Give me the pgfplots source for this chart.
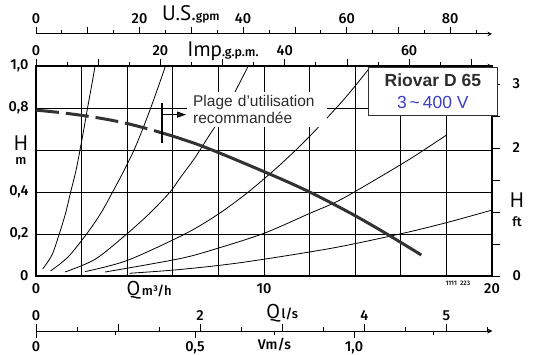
\documentclass[border=0pt]{standalone}
\usepackage{fontspec}
\setmainfont{Fira Sans}[UprightFont={* Medium}, BoldFont={* Bold}]
\newfontfamily\condfont{PT Sans}
\newfontfamily\arialfont{Liberation Sans}
\usepackage{pgfplots}
\pgfplotsset{compat=1.18}
\usetikzlibrary{arrows.meta}
\definecolor{darktext}{RGB}{45,45,45}
\definecolor{voltblue}{RGB}{60,60,200}
\definecolor{pumpgray}{RGB}{50,50,50}

\pgfplotsset{
  scaleaxis/.style={
    width=456pt, scale only axis, clip=false,
    tick style={black, line width=0.8pt},
    axis line style={black, line width=1pt, -},
    tick label style={font=\fontsize{14.5}{15}\selectfont, /pgf/number format/assume math mode=true},
  },
}
\begin{document}
\begin{tikzpicture}
\path[use as bounding box] (-36pt,-78pt) rectangle (502pt,276pt);
% US gpm axis
\begin{axis}[scaleaxis, at={(0pt,242pt)}, anchor=north west, height=10pt,
  xmin=0, xmax=88.06, ymin=0, ymax=1, hide y axis, axis x line=top,
  xtick={0,10,...,80}, xticklabels={0,,20,,40,,60,,80},
  minor xtick={5,15,...,85},
  tick align=outside, major tick length=7pt, minor tick length=4pt]
\node[anchor=base, inner sep=0pt] at (axis cs:29.9,1) [yshift=13pt] {{\condfont\fontsize{21}{21}\selectfont U.S.}{\fontsize{12}{12}\selectfont gpm}};
\end{axis}
% Imp gpm axis
\begin{axis}[scaleaxis, at={(0pt,210pt)}, anchor=north west, height=10pt,
  xmin=0, xmax=73.32, ymin=0, ymax=1, hide y axis, axis x line=top,
  xtick={0,10,...,70}, xticklabels={0,,20,,40,,60,},
  minor xtick={5,15,...,65},
  tick align=outside, major tick length=7pt, minor tick length=4pt]
\node[anchor=base, inner sep=0pt] at (axis cs:30.07,1) [yshift=10pt] {{\condfont\fontsize{21}{21}\selectfont Imp}{\fontsize{12.5}{13}\selectfont .g.p.m.}};
\end{axis}
% Q l/s axis
\begin{axis}[scaleaxis, at={(0pt,-55pt)}, anchor=north west, height=10pt,
  xmin=0, xmax=5.5556, ymin=0, ymax=1, hide y axis, axis x line=top,
  xtick={0,1,...,5}, xticklabels={0,,2,,4,5},
  minor xtick={0.5,1.5,...,5.5},
  tick align=outside, major tick length=7pt, minor tick length=4pt]
\node[anchor=base, inner sep=0pt] at (axis cs:3,1) [yshift=12.5pt] {{\condfont\fontsize{20}{20}\selectfont Q}\,{\fontsize{13}{13}\selectfont l/s}};
\end{axis}
% velocity axis
\begin{axis}[scaleaxis, at={(0pt,-55pt)}, anchor=south west, height=10pt,
  xmin=0, xmax=1.434, ymin=0, ymax=1, hide y axis, axis x line=bottom,
  xtick={0,0.5,1}, xticklabels={0,{0,5},{1,0}},
  minor xtick={0.25,0.75,1.25},
  tick align=outside, major tick length=7pt, minor tick length=4pt]
\node[anchor=base, inner sep=0pt] at (axis cs:0.75,0) [yshift=-18.5pt] {\fontsize{14}{15}\selectfont Vm/s};
\end{axis}
% ft axis
\begin{axis}[scaleaxis, at={(0pt,0pt)}, anchor=south west, height=210pt,
  xmin=0, xmax=20, ymin=0, ymax=3.2808, hide x axis, axis y line=right,
  ytick={0,0.5,1,1.5,2,2.5,3}, yticklabels={0,,,,2,,3},
  tick align=outside, major tick length=8pt,
  yticklabel style={xshift=9pt}]
\end{axis}
% main axis
\begin{axis}[scaleaxis, at={(0pt,0pt)}, anchor=south west, height=210pt,
  xmin=0, xmax=20, ymin=0, ymax=1,
  xtick={0,2,...,20}, xticklabels={0,,,,,10,,,,,20},
  ytick={0,0.2,0.4,0.6,0.8,1}, yticklabels={0,{0,2},{0,4},,{0,8},{1,0}},
  grid=major, major grid style={black, line width=0.9pt},
  major tick length=0pt,
  axis line style={black, line width=1.1pt},
  xticklabel style={yshift=-4pt}, yticklabel style={xshift=-4pt}]
% system curves
\addplot[black, line width=0.8pt, smooth] coordinates {(0.29,0.033)(0.7,0.1)(1.02,0.2)(1.3,0.3)(1.52,0.4)(1.75,0.5)(1.93,0.6)(2.1,0.7)(2.26,0.8)(2.43,0.9)(2.59,1.0)};
\addplot[black, line width=0.8pt, smooth] coordinates {(0.64,0.024)(1.4,0.09)(2.22,0.2)(2.85,0.3)(3.36,0.4)(3.85,0.5)(4.3,0.6)(4.68,0.7)(5.03,0.8)(5.36,0.9)(5.68,1.0)};
\addplot[black, line width=0.8pt, smooth] coordinates {(1.27,0.019)(2.6,0.08)(3.98,0.2)(5.0,0.3)(5.88,0.4)(6.32,0.467)(6.95,0.56)(7.56,0.663)(8.2,0.77)(8.73,0.877)(9.31,1.0)};
\addplot[black, line width=0.8pt, smooth] coordinates {(2.15,0.021)(4,0.074)(6.53,0.2)(8,0.295)(9.31,0.4)(10.7,0.529)(12,0.665)(13.48,0.838)(14.7,1.0)};
\addplot[black, line width=0.8pt, smooth] coordinates {(3.03,0.019)(6.32,0.083)(8,0.133)(10.04,0.205)(12,0.298)(13.3,0.36)(15,0.466)(16.5,0.564)(18,0.671)};
\addplot[black, line width=0.8pt, smooth] coordinates {(4.1,0.013)(6.32,0.031)(9,0.064)(12.9,0.131)(16,0.201)(18,0.254)(20,0.314)};
% pump curve
\addplot[pumpgray, line width=3pt, smooth, dash pattern=on 23pt off 7pt] coordinates {(0,0.79)(1,0.779)(2,0.765)(3,0.748)(4,0.726)(5,0.698)(5.5,0.682)};
\addplot[pumpgray, line width=3pt, smooth] coordinates {(5.5,0.682)(6,0.666)(7,0.63)(8,0.588)(9,0.543)(10,0.497)(11,0.45)(12,0.40)(13,0.345)(14,0.287)(15,0.225)(16,0.16)(16.9,0.1)};
% recommended range marker
\addplot[black, line width=1.2pt] coordinates {(5.53,0.632)(5.53,0.825)};
\addplot[black, line width=1.2pt, -{Triangle[length=9pt,width=6pt,fill=pumpgray]}] coordinates {(5.53,0.7685)(6.58,0.7685)};
% labels
\node[anchor=base, inner sep=0pt, font=\condfont\fontsize{21}{21}\selectfont] at (axis cs:0,0.6) [xshift=-15pt] {H};
\node[anchor=base, inner sep=0pt, font=\fontsize{13}{13}\selectfont] at (axis cs:0,0.529) [xshift=-15pt] {m};
\node[anchor=base, inner sep=0pt, font=\condfont\fontsize{21}{21}\selectfont] at (axis cs:20,0.324) [xshift=25pt] {H};
\node[anchor=base, inner sep=0pt, font=\fontsize{13}{13}\selectfont] at (axis cs:20,0.238) [xshift=25pt] {ft};
\node at (axis cs:4.96,-0.067) {{\condfont\fontsize{20}{20}\selectfont Q}\,{\fontsize{13}{13}\selectfont m³/h}};
\node[font=\fontsize{6.5}{7}\selectfont] at (axis cs:18.5,-0.036) {1111\enspace 223};
\node[anchor=north west, fill=white, inner xsep=6pt, inner ysep=3pt, text width=128pt, align=left,
      font=\arialfont\fontsize{15.5}{17.5}\selectfont, text=darktext] at (axis cs:6.62,0.876)
      {Plage d’utilisation\\recommandée};
\node[anchor=north west, fill=white, draw=black!80, line width=0.8pt, minimum width=129pt, minimum height=48pt,
      align=center, inner sep=2pt, font=\arialfont\fontsize{17.5}{22}\selectfont] at (axis cs:14.56,0.995)
      {\textcolor{darktext}{\bfseries Riovar D 65}\\\textcolor{voltblue}{3\,\textasciitilde\,400 V}};
\end{axis}
\end{tikzpicture}
\end{document}
